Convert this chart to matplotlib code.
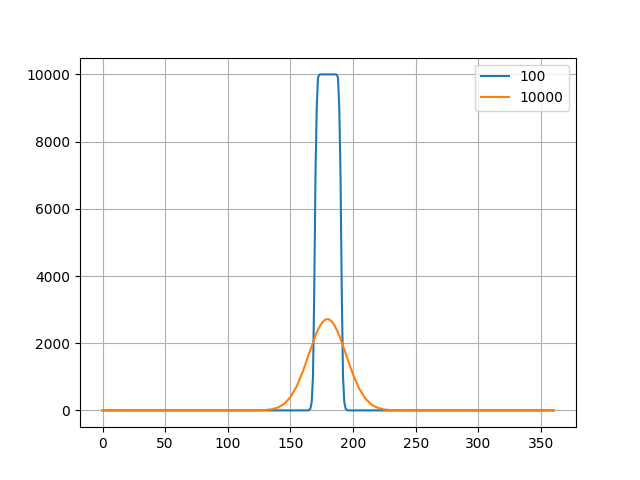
import matplotlib
matplotlib.use("Agg")
import matplotlib.pyplot as plt

# Series "100": flat-topped narrow pulse
x_100 = [0, 160, 164, 165, 166, 167, 168, 169, 170, 171, 172, 173, 174,
         186, 187, 188, 189, 190, 191, 192, 193, 194, 195, 196, 200, 360]
y_100 = [0, 0, 0, 10, 60, 250, 1000, 3500, 7000, 9000, 9900, 9990, 10000,
         10000, 9990, 9900, 9000, 7000, 3500, 1000, 250, 60, 10, 0, 0, 0]

# Series "10000": broad bell-shaped peak
x_10000 = [0, 115, 120, 125, 130, 135, 140, 145, 150, 155, 160, 165, 170,
           172.5, 175, 177.5, 180, 182.5, 185, 187.5, 190, 195, 200, 205,
           210, 215, 220, 225, 230, 235, 240, 245, 360]
y_10000 = [0, 0, 1, 4, 12, 33, 85, 193, 393, 717, 1168, 1705, 2226,
           2439, 2601, 2696, 2719, 2666, 2543, 2359, 2129, 1595, 1069, 641,
           344, 165, 71, 27, 9, 3, 1, 0, 0]

fig, ax = plt.subplots(figsize=(6.4, 4.8), dpi=100)
ax.plot(x_100, y_100, label="100")
ax.plot(x_10000, y_10000, label="10000")
ax.grid(True)
ax.legend(loc="upper right")
fig.savefig("out.png")
